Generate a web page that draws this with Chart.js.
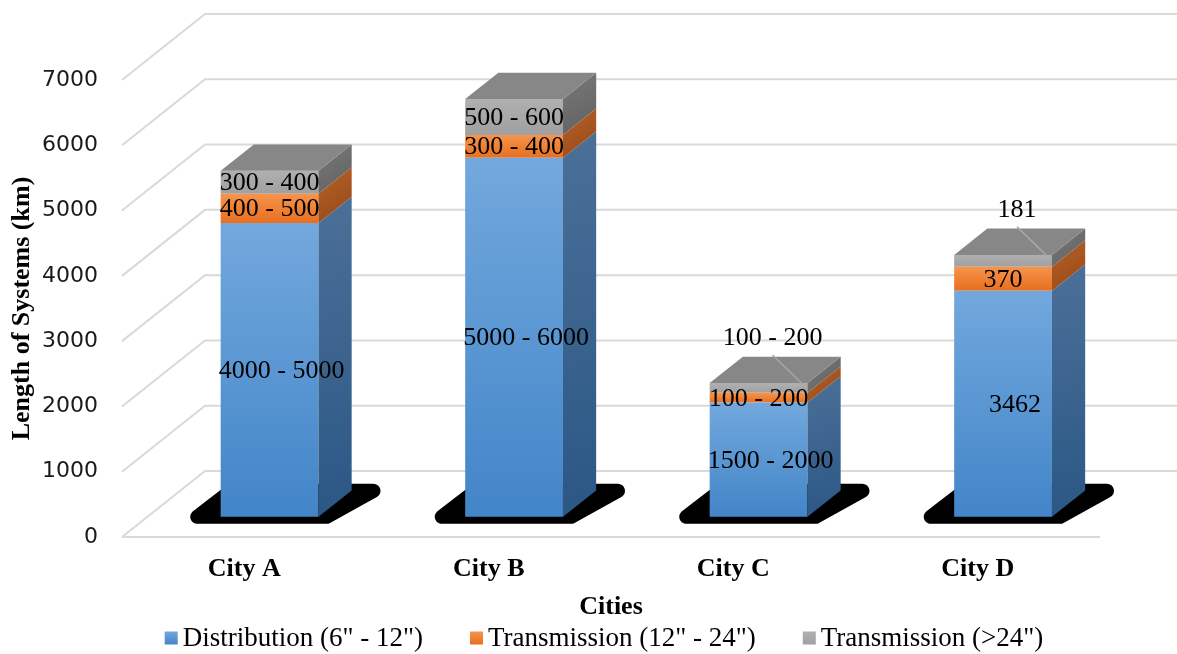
<!DOCTYPE html>
<html>
<head>
<meta charset="utf-8">
<script src="https://cdn.jsdelivr.net/npm/chart.js@4.4.1/dist/chart.umd.min.js"></script>
<style>
  html, body { margin: 0; padding: 0; background: #ffffff; }
  #c { display: block; }
</style>
</head>
<body>
<canvas id="c" width="1177" height="654"></canvas>
<script>
// ---- data ----
const cities = ['City A', 'City B', 'City C', 'City D'];
const seriesNames = ['Distribution (6" - 12")', 'Transmission (12" - 24")', 'Transmission (>24")'];
const distribution      = [4500, 5500, 1750, 3462];
const transmissionMid   = [450, 350, 150, 370];
const transmissionLarge = [350, 550, 150, 181];
const distributionText      = ['4000 - 5000', '5000 - 6000', '1500 - 2000', '3462'];
const transmissionMidText   = ['400 - 500', '300 - 400', '100 - 200', '370'];
const transmissionLargeText = ['300 - 400', '500 - 600', '100 - 200', '181'];
const yTickValues = [0, 1000, 2000, 3000, 4000, 5000, 6000, 7000];

// ---- styling ----
const palette = [
  { front: ['#72a8dd', '#4285c8'], side: ['#4b7098', '#2b5785'] },
  { front: ['#f6944d', '#e86f1e'], side: ['#b4622a', '#984817'] },
  { front: ['#b0b0b0', '#a0a0a0'], side: ['#787878', '#616161'] }
];
const TOP_FACE = '#878787';
const GRID = '#d9d9d9';
const SERIF = '"Liberation Serif", "Times New Roman", serif';
const SANS = '"DejaVu Sans", sans-serif';

// oblique depth of the floor (front edge -> back wall), in pixels
const DEPTH = { x: 83, y: -66 };
const BAR_FRONT = 0.305;   // where the bar fronts sit inside the floor depth
const BAR_DEPTH = 0.4;     // how deep each bar is
const LABEL_SHIFT = [12, 0, 0];

const segmentTexts = [distributionText, transmissionMidText, transmissionLargeText];

function frontFill(d) {
  return (c) => {
    const chart = c.chart;
    const y = chart.scales && chart.scales.y;
    const stops = palette[d].front;
    if (!chart.chartArea || !y || c.dataIndex === undefined) return stops[0];
    const sets = chart.data.datasets;
    let base = 0;
    for (let k = 0; k < d; k++) base += sets[k].data[c.dataIndex];
    const top = y.getPixelForValue(base + sets[d].data[c.dataIndex]);
    const bot = y.getPixelForValue(base);
    const g = chart.ctx.createLinearGradient(0, top, 0, bot);
    g.addColorStop(0, stops[0]);
    g.addColorStop(1, stops[1]);
    return g;
  };
}

function roundedPath(ctx, pts, r) {
  const n = pts.length;
  const mid = (a, b) => [(a[0] + b[0]) / 2, (a[1] + b[1]) / 2];
  const start = mid(pts[n - 1], pts[0]);
  ctx.beginPath();
  ctx.moveTo(start[0], start[1]);
  for (let i = 0; i < n; i++) {
    const p = pts[i], q = pts[(i + 1) % n];
    ctx.arcTo(p[0], p[1], q[0], q[1], r);
  }
  ctx.closePath();
}

// oblique walls, floor, shadows and bar depth faces
const box3d = {
  id: 'box3d',
  beforeDatasetsDraw(chart) {
    const { ctx, chartArea: a, scales: { y } } = chart;
    ctx.save();
    ctx.strokeStyle = GRID;
    ctx.lineWidth = 2;
    y.ticks.forEach(t => {
      const yf = y.getPixelForValue(t.value);
      ctx.beginPath();
      ctx.moveTo(a.left, yf);
      ctx.lineTo(a.left + DEPTH.x, yf + DEPTH.y);
      ctx.lineTo(a.right + DEPTH.x, yf + DEPTH.y);
      ctx.stroke();
    });
    const y0 = y.getPixelForValue(0);
    ctx.beginPath();
    ctx.moveTo(a.left, y0);
    ctx.lineTo(a.right, y0);
    ctx.stroke();
    ctx.restore();

    // move into the plane of the bar fronts
    ctx.save();
    ctx.translate(DEPTH.x * BAR_FRONT, DEPTH.y * BAR_FRONT);

    // soft-cornered cast shadow under each bar
    const meta = chart.getDatasetMeta(0);
    ctx.fillStyle = '#000000';
    meta.data.forEach(el => {
      const left = el.x - el.width / 2, right = el.x + el.width / 2, b = el.base;
      roundedPath(ctx, [
        [left - 44, b + 7], [right + 10, b + 7], [right + 82, b - 33], [left + 8, b - 33]
      ], 7);
      ctx.fill();
    });
  },
  afterDatasetsDraw(chart) {
    const { ctx } = chart;
    const dx = DEPTH.x * BAR_DEPTH, dy = DEPTH.y * BAR_DEPTH;
    const n = chart.data.datasets.length;

    for (let d = 0; d < n; d++) {
      const meta = chart.getDatasetMeta(d);
      meta.data.forEach(el => {
        const right = el.x + el.width / 2, top = el.y, bot = el.base;
        const g = ctx.createLinearGradient(right, top + dy, right + dx, bot);
        g.addColorStop(0, palette[d].side[0]);
        g.addColorStop(1, palette[d].side[1]);
        ctx.fillStyle = g;
        ctx.beginPath();
        ctx.moveTo(right, top);
        ctx.lineTo(right + dx, top + dy);
        ctx.lineTo(right + dx, bot + dy);
        ctx.lineTo(right, bot);
        ctx.closePath();
        ctx.fill();
      });
    }
    // lid on top of each stack
    const topMeta = chart.getDatasetMeta(n - 1);
    ctx.fillStyle = TOP_FACE;
    topMeta.data.forEach(el => {
      const left = el.x - el.width / 2, right = el.x + el.width / 2, top = el.y;
      ctx.beginPath();
      ctx.moveTo(left, top);
      ctx.lineTo(left + dx, top + dy);
      ctx.lineTo(right + dx, top + dy);
      ctx.lineTo(right, top);
      ctx.closePath();
      ctx.fill();
    });

    // value labels
    ctx.font = '26px ' + SERIF;
    ctx.textAlign = 'center';
    ctx.textBaseline = 'middle';
    for (let d = 0; d < n; d++) {
      const meta = chart.getDatasetMeta(d);
      meta.data.forEach((el, i) => {
        const text = segmentTexts[d][i];
        const h = el.base - el.y;
        if (d === n - 1 && h < 15) {
          // too thin: put the label above the bar with a leader line
          const lx = el.x + 14, ly = el.y - 45;
          ctx.strokeStyle = '#a6a6a6';
          ctx.lineWidth = 1.5;
          ctx.beginPath();
          ctx.moveTo(lx, ly + 17);
          ctx.lineTo(el.x + el.width / 2 - 5, el.y + 1);
          ctx.stroke();
          ctx.fillStyle = '#000000';
          ctx.fillText(text, lx, ly);
        } else {
          ctx.fillStyle = '#000000';
          ctx.fillText(text, el.x + LABEL_SHIFT[d], (el.y + el.base) / 2 + 1);
        }
      });
    }
    ctx.restore();
  }
};

// single-row key under the axis title
const keyRow = {
  id: 'keyRow',
  afterDraw(chart) {
    const { ctx } = chart;
    const sets = chart.data.datasets;
    const box = 13, gap = 5, spacing = 47, cy = 638, centerX = 604;
    ctx.save();
    ctx.font = '27px ' + SERIF;
    ctx.textBaseline = 'middle';
    ctx.textAlign = 'left';
    const widths = sets.map(s => ctx.measureText(s.label).width);
    const total = widths.reduce((s, w) => s + box + gap + w, 0) + spacing * (sets.length - 1);
    let x = centerX - total / 2;
    sets.forEach((s, d) => {
      const g = ctx.createLinearGradient(0, cy - box / 2, 0, cy + box / 2);
      g.addColorStop(0, palette[d].front[0]);
      g.addColorStop(1, palette[d].front[1]);
      ctx.fillStyle = g;
      ctx.fillRect(x, cy - box / 2, box, box);
      ctx.fillStyle = '#000000';
      ctx.fillText(s.label, x + box + gap, cy + 1);
      x += box + gap + widths[d] + spacing;
    });
    ctx.restore();
  }
};

new Chart(document.getElementById('c'), {
  type: 'bar',
  data: {
    labels: cities,
    datasets: [
      { label: seriesNames[0], data: distribution, backgroundColor: frontFill(0) },
      { label: seriesNames[1], data: transmissionMid, backgroundColor: frontFill(1) },
      { label: seriesNames[2], data: transmissionLarge, backgroundColor: frontFill(2) }
    ]
  },
  options: {
    responsive: false,
    animation: false,
    devicePixelRatio: 1,
    layout: { padding: { left: 0, right: 77, top: 80, bottom: 0 } },
    datasets: { bar: { barPercentage: 0.4, categoryPercentage: 1, borderWidth: 0, clip: false } },
    plugins: { legend: { display: false }, tooltip: { enabled: false } },
    scales: {
      x: {
        stacked: true,
        grid: { display: false, drawTicks: false },
        border: { display: false },
        ticks: { font: { family: SERIF, size: 26, weight: 'bold' }, color: '#000000', padding: 17 },
        title: {
          display: true, text: 'Cities', color: '#000000',
          font: { family: SERIF, size: 26, weight: 'bold' },
          padding: { top: 0, bottom: 31 }
        },
        afterFit: s => { s.height = 117; }
      },
      y: {
        stacked: true,
        min: 0,
        max: 7000,
        grid: { display: false, drawTicks: false },
        border: { display: false },
        afterBuildTicks: s => { s.ticks = yTickValues.map(v => ({ value: v })); },
        ticks: {
          font: { family: SANS, size: 22 }, color: '#1a1a1a', padding: 24,
          callback: v => String(v)
        },
        title: {
          display: true, text: 'Length of Systems (km)', color: '#000000',
          font: { family: SERIF, size: 26, weight: 'bold' },
          padding: { top: 7, bottom: 0 }
        },
        afterFit: s => { s.width = 122; }
      }
    }
  },
  plugins: [box3d, keyRow]
});
</script>
</body>
</html>
